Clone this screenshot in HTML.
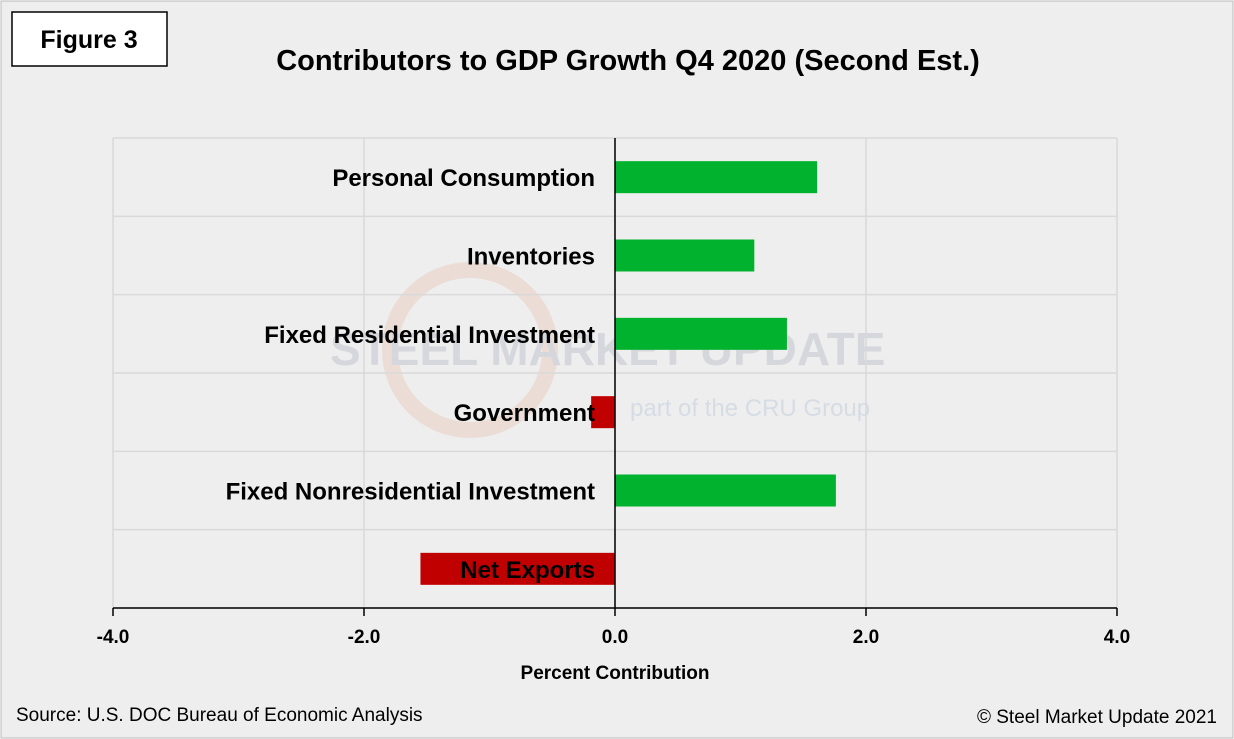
<!DOCTYPE html>
<html><head><meta charset="utf-8"><style>
body{margin:0;background:#fff}
svg{display:block;font-family:"Liberation Sans",Arial,sans-serif}
</style></head><body>
<svg width="1234" height="739" viewBox="0 0 1234 739">
<rect x="1" y="1" width="1232" height="737" fill="#eeeeee" stroke="#bbbbbb"/>
<rect x="12" y="12" width="155" height="54" fill="#fff" stroke="#000" stroke-width="1.5"/>
<text x="89" y="48" font-size="25" font-weight="bold" text-anchor="middle">Figure 3</text>
<text x="628" y="70" font-size="29" font-weight="bold" text-anchor="middle">Contributors to GDP Growth Q4 2020 (Second Est.)</text>
<g opacity="0.15">
<circle cx="470" cy="350" r="80" fill="none" stroke="#e07a50" stroke-width="16"/>
<text x="330" y="365" font-size="46" font-weight="bold" fill="#4a5a80">STEEL MARKET UPDATE</text>
<text x="630" y="416" font-size="24" fill="#4a7ab0">part of the CRU Group</text>
</g>
<g id="grid"></g>
<g id="bars"></g>
<g id="axis"></g>
<text x="615" y="679" font-size="19" font-weight="bold" text-anchor="middle">Percent Contribution</text>
<text x="16" y="721" font-size="19">Source: U.S. DOC Bureau of Economic Analysis</text>
<text x="1217" y="723" font-size="19" text-anchor="end">© Steel Market Update 2021</text>
</svg>
<script>
const categories=["Personal Consumption","Inventories","Fixed Residential Investment","Government","Fixed Nonresidential Investment","Net Exports"];
const values=[1.61,1.11,1.37,-0.19,1.76,-1.55];
const ticks=[-4,-2,0,2,4];
const tickLabels=["-4.0","-2.0","0.0","2.0","4.0"];
const NS="http://www.w3.org/2000/svg";
const L=113,R=1117,T=138,B=608;
const x=v=>L+(v+4)/8*(R-L);
const rowH=(B-T)/categories.length;
const y=i=>T+i*rowH;
function mk(t,a,p){const e=document.createElementNS(NS,t);for(const k in a)e.setAttribute(k,a[k]);p.appendChild(e);return e;}
const g=document.getElementById('grid'),b=document.getElementById('bars'),ax=document.getElementById('axis');
ticks.forEach((t,i)=>{const l=mk('line',{x1:x(t),x2:x(t),y1:T,y2:B,stroke:'#d9d9d9','stroke-width':1.5},g);


const tk=mk('line',{x1:x(t),x2:x(t),y1:B,y2:B+8,stroke:'#000','stroke-width':1.5},ax);


const tx=mk('text',{x:x(t),y:B+35,'font-size':19,'font-weight':'bold','text-anchor':'middle'},ax);tx.textContent=tickLabels[i];

});
for(let i=0;i<=categories.length;i++){const l=mk('line',{x1:L,x2:R,y1:y(i),y2:y(i),stroke:'#d9d9d9','stroke-width':1.5},g);

}
categories.forEach((c,i)=>{const v=values[i];const cy=y(i)+rowH/2;
const r=mk('rect',{x:Math.min(x(0),x(v)),y:cy-16,width:Math.abs(x(v)-x(0)),height:32,fill:v>=0?'#00b22d':'#c00000'},b);


const t=mk('text',{x:595,y:cy+9,'font-size':24,'font-weight':'bold','text-anchor':'end'},b);t.textContent=c;

});
const a1=mk('line',{x1:L,x2:R,y1:B,y2:B,stroke:'#000','stroke-width':1.5},ax);


const a2=mk('line',{x1:x(0),x2:x(0),y1:T,y2:B,stroke:'#000','stroke-width':1.5},ax);


</script>
</body></html>
